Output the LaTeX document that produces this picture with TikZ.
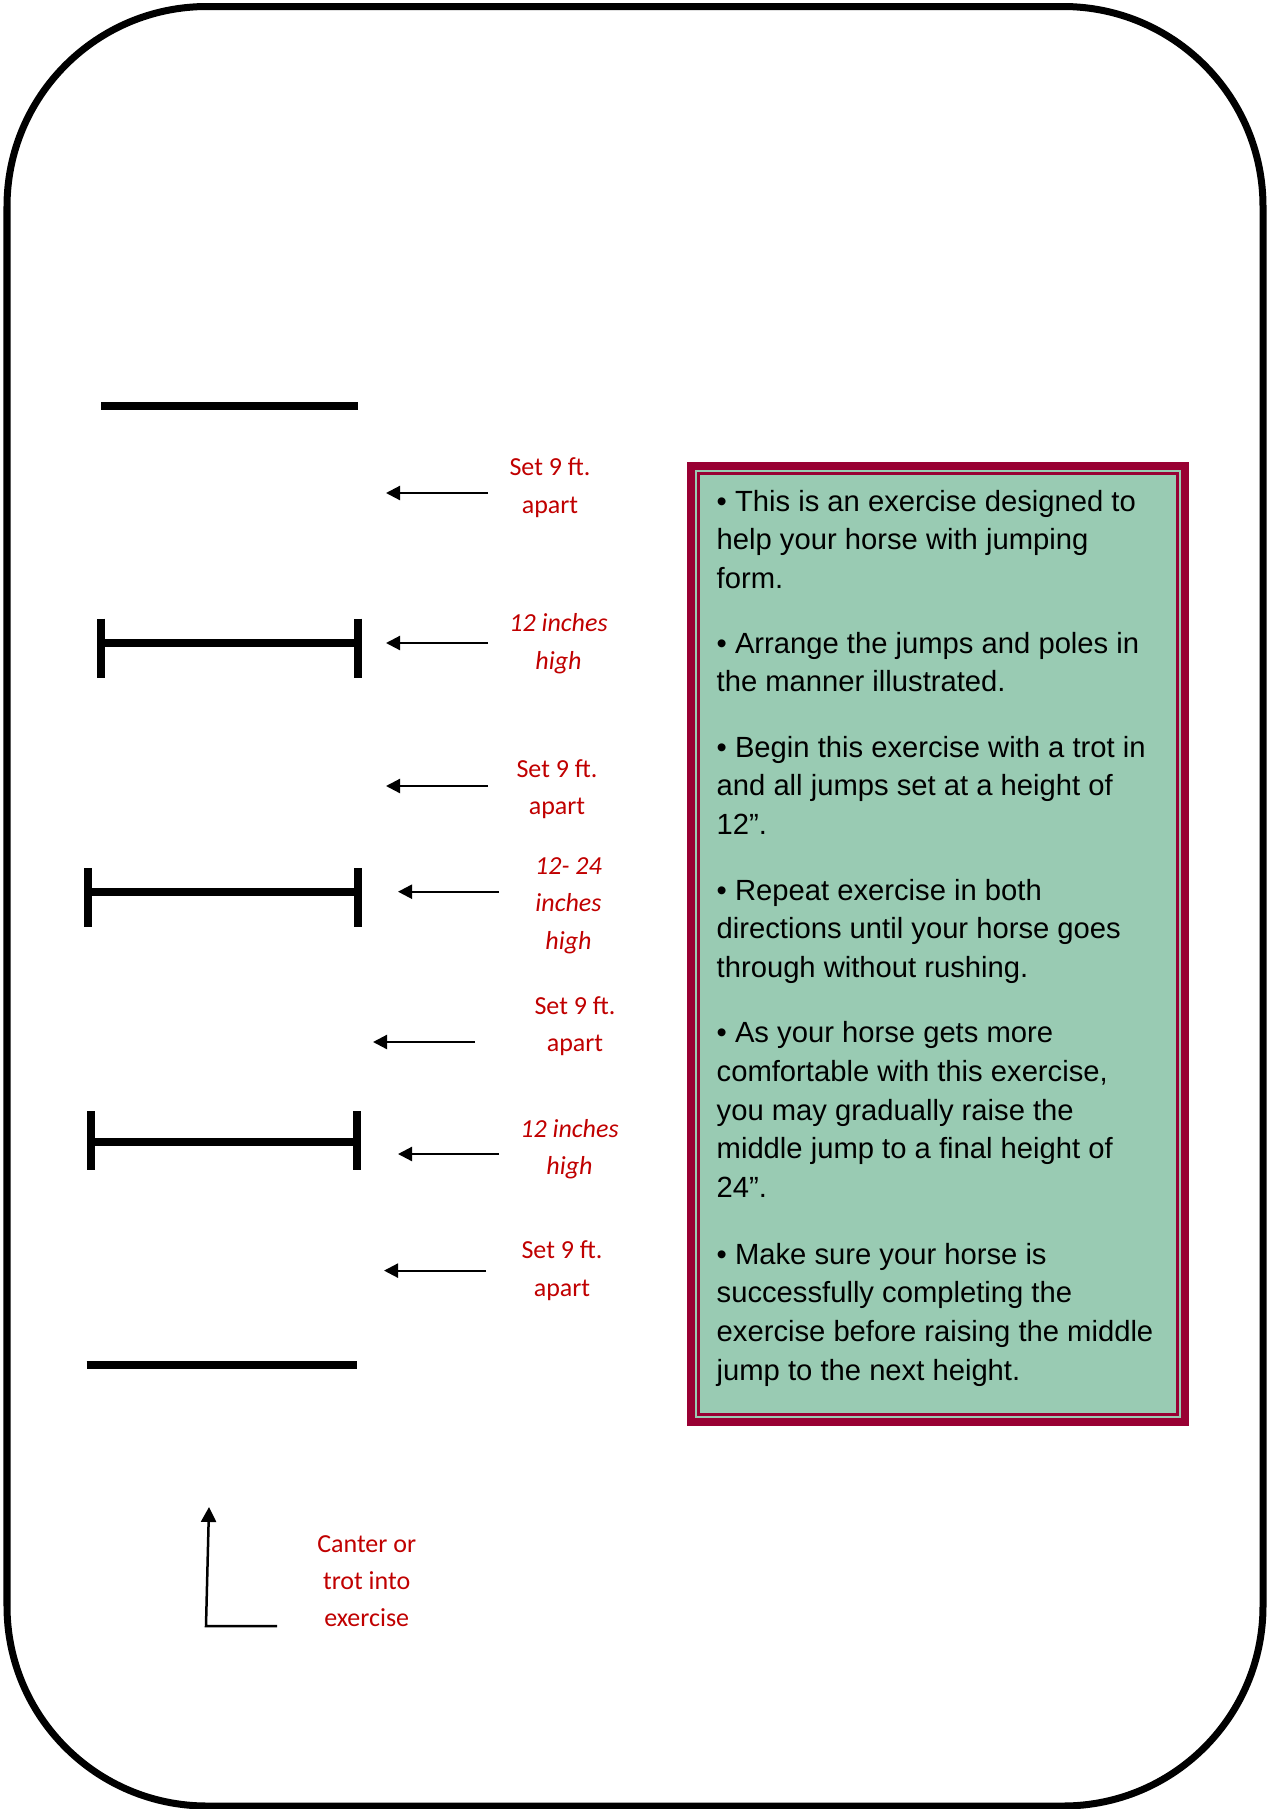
\documentclass[tikz,border=0pt]{standalone}
\usepackage{fontspec}
\setmainfont{Liberation Sans}
\newfontfamily\calib{Carlito}
\usetikzlibrary{arrows.meta}
\definecolor{lblred}{RGB}{192,0,0}
\definecolor{maroon}{RGB}{153,0,51}
\definecolor{mint}{RGB}{153,203,179}
\tikzset{
  pole/.style={line width=8bp, line cap=butt},
  ptr/.style={line width=2.2bp, -{Triangle[length=14bp,width=14bp]}},
  lbl/.style={font={\calib\fontsize{26bp}{37.3bp}\selectfont}, text=lblred, align=center, inner sep=0pt, anchor=base},
  ilbl/.style={lbl, font={\calib\itshape\fontsize{26bp}{37.3bp}\selectfont}},
  para/.style={font={\fontsize{29.2bp}{38.7bp}\selectfont}, align=left, inner sep=0pt, anchor=base west}
}
\begin{document}
\begin{tikzpicture}[x=1bp,y=-1bp]
\useasboundingbox (0,0) rectangle (1266,1809);
% outer frame
\draw[line width=7bp, rounded corners=200bp] (7,6.5) rectangle (1263,1806);

% poles and jumps
\draw[pole] (101,406) -- (358,406);
\draw[pole] (101,618.5) -- (101,677.5);
\draw[pole] (357.6,618.5) -- (357.6,677.5);
\draw[pole] (101,643) -- (357.6,643);
\draw[pole] (87.5,868) -- (87.5,927);
\draw[pole] (357.5,868) -- (357.5,927);
\draw[pole] (87.5,891.5) -- (357.5,891.5);
\draw[pole] (91.4,1111) -- (91.4,1170);
\draw[pole] (357.3,1111) -- (357.3,1170);
\draw[pole] (91.4,1141.5) -- (357.3,1141.5);
\draw[pole] (86.6,1365) -- (356.6,1365);

% labels (anchored at the baseline of the last line)
\node[lbl] (l1) at (550,513) {Set 9 ft.\\apart};
\node[ilbl] (l2) at (558.5,669) {12 inches\\high};
\node[lbl] (l3) at (557,814.6) {Set 9 ft.\\apart};
\node[ilbl] (l4) at (568.5,949) {12- 24\\inches\\high};
\node[lbl] (l5) at (575,1051.7) {Set 9 ft.\\apart};
\node[ilbl] (l6) at (569.5,1174.7) {12 inches\\high};
\node[lbl] (l7) at (562,1296) {Set 9 ft.\\apart};
\node[lbl] (l8) at (366.7,1626.7) {Canter or\\trot into\\exercise};

% arrows
\coordinate (t1) at (488,493); \coordinate (h1) at (386,493);
\coordinate (t2) at (488,643); \coordinate (h2) at (386,643);
\coordinate (t3) at (488,786); \coordinate (h3) at (386,786);
\coordinate (t4) at (499,891.7); \coordinate (h4) at (398,891.7);
\coordinate (t5) at (475,1042); \coordinate (h5) at (373,1042);
\coordinate (t6) at (499,1154); \coordinate (h6) at (398,1154);
\coordinate (t7) at (486,1270.6); \coordinate (h7) at (384,1270.6);
\foreach \i in {1,...,7} \draw[ptr] (t\i) -- (h\i);

% entry arrow
\coordinate (e1) at (277,1626);
\coordinate (e2) at (206,1626);
\coordinate (e3) at (209,1507);
\draw[line width=2.5bp, -{Triangle[length=15bp,width=15bp]}] (e1) -- (e2) -- (e3);

% info box
\fill[maroon] (687,462) rectangle (1189,1426);
\fill[mint] (695,470) rectangle (1181,1418);
\draw[maroon, line width=2.3bp] (698.5,473.5) rectangle (1177.5,1414.5);

\node[para] (p1) at (716.5,588.4) {• This is an exercise designed to\\help your horse with jumping\\form.};
\node[para] (p2) at (716.5,691.7) {• Arrange the jumps and poles in\\the manner illustrated.};
\node[para] (p3) at (716.5,834.4) {• Begin this exercise with a trot in\\and all jumps set at a height of\\12”.};
\node[para] (p4) at (716.5,977.4) {• Repeat exercise in both\\directions until your horse goes\\through without rushing.};
\node[para] (p5) at (716.5,1197.5) {• As your horse gets more\\comfortable with this exercise,\\you may gradually raise the\\middle jump to a final height of\\24”.};
\node[para] (p6) at (716.5,1380.1) {• Make sure your horse is\\successfully completing the\\exercise before raising the middle\\jump to the next height.};
\end{tikzpicture}
\end{document}
